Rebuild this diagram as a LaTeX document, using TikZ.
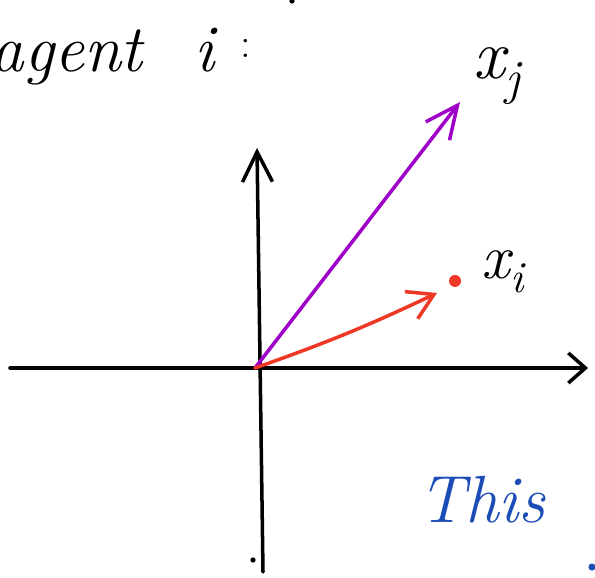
\documentclass[tikz,border=0pt]{standalone}
\usepackage{fontspec}
\usetikzlibrary{arrows.meta}
\definecolor{vecpurple}{RGB}{158,0,200}
\definecolor{vecred}{RGB}{236,56,36}
\definecolor{inkblue}{RGB}{28,76,182}

\begin{document}
\begin{tikzpicture}[
    ax/.style={line width=2pt,line cap=round,line join=round},
    vec/.style={line width=2pt,line cap=round,line join=round},
    barb/.style={-{Straight Barb[length=#1,width=6mm,line width=2pt]}},
    hand/.style={inner sep=0pt,font=\fontsize{38}{44}\selectfont\itshape}]
    \useasboundingbox (0,0) rectangle (11.9,11.56);
    \clip (0,0) rectangle (11.9,11.56);
    % axes
    \coordinate (O) at (5.10,4.20);
    \coordinate (hl) at (0.20,4.20);
    \coordinate (hr) at (11.76,4.20);
    \coordinate (vb) at (5.26,0.12);
    \coordinate (vt) at (5.14,8.60);
    \draw[ax,barb=3.4mm] (hl)--(hr);
    \draw[ax,barb=6mm] (vb)--(vt);
    % vectors
    \coordinate (tipj) at (9.20,9.52);
    \coordinate (tipi) at (8.74,5.70);
    \draw[vec,vecpurple,barb=6.5mm] (O)--(tipj);
    \draw[vec,vecred,barb=5mm] (O) to[bend right=3] (tipi);
    \fill[vecred] (9.10,5.94) circle (0.12) coordinate (xi);
    \node[hand,font=\fontsize{40}{44}\selectfont\itshape] (labj) at (9.94,10.04) {x\textsubscript{j}};
    \node[hand,font=\fontsize{36}{40}\selectfont\itshape] (labi) at (10.06,6.12) {x\textsubscript{i}};
    % handwriting
    \node[hand,anchor=base east] (agent) at (2.86,10.12) {agent};
    \node[hand,anchor=base] (who) at (4.10,10.12) {i};
    \node[hand,font=\fontsize{24}{28}\selectfont,anchor=base] (colon) at (4.92,10.40) {:};
    \node[hand,inkblue,anchor=base west] (this) at (8.36,1.10) {This};
    \fill (5.06,0.36) circle (1.5pt);
    \fill[inkblue] (11.84,0.22) circle (2pt);
    \fill (5.84,11.54) circle (1.5pt);
  \end{tikzpicture}
\end{document}
